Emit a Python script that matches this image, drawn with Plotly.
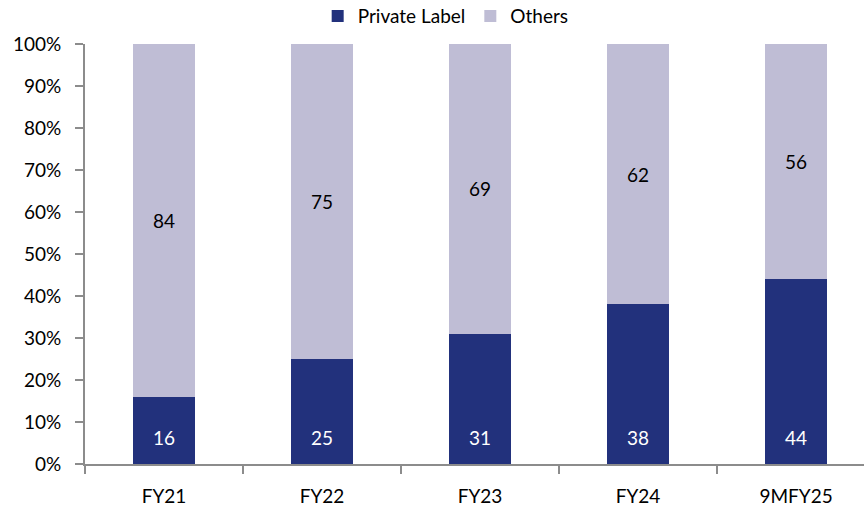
import plotly.graph_objects as go

# Share of sales (%) by fiscal period
categories = ["FY21", "FY22", "FY23", "FY24", "9MFY25"]
private_label = [16, 25, 31, 38, 44]
others = [84, 75, 69, 62, 56]
y_ticks = [0, 10, 20, 30, 40, 50, 60, 70, 80, 90, 100]
y_tick_labels = [f"{v}%" for v in y_ticks]

NAVY = "#22317c"
LAVENDER = "#bfbdd5"
FONT = "Lato, 'Open Sans', sans-serif"
SIZE = 19

fig = go.Figure()
fig.add_trace(go.Bar(
    x=categories, y=private_label, name="Private Label",
    marker=dict(color=NAVY, line=dict(width=0)), width=0.39,
))
fig.add_trace(go.Bar(
    x=categories, y=others, name="Others",
    marker=dict(color=LAVENDER, line=dict(width=0)), width=0.39,
    text=[str(v) for v in others], textposition="inside",
    insidetextanchor="middle", textangle=0,
    textfont=dict(color="#000000", size=SIZE, family=FONT),
))

# Private-label values sit near the base of each bar
for c, v in zip(categories, private_label):
    fig.add_annotation(x=c, y=0, text=str(v), showarrow=False,
                       yanchor="middle", yshift=27,
                       font=dict(color="#ffffff", size=SIZE, family=FONT))

fig.update_layout(
    barmode="stack",
    width=864, height=508,
    margin=dict(l=85, r=0, t=44, b=44, autoexpand=False),
    paper_bgcolor="white", plot_bgcolor="white",
    font=dict(family=FONT, size=SIZE, color="#000000"),
    showlegend=True,
    legend=dict(orientation="h", x=0.463, xanchor="center",
                y=1.021, yanchor="bottom",
                font=dict(size=SIZE, family=FONT), itemwidth=30,
                traceorder="normal", bgcolor="rgba(0,0,0,0)"),
    xaxis=dict(
        type="category", range=[-0.5, 4.43],
        showline=True, linecolor="#8c8c8c", linewidth=2,
        ticks="outside", tickson="boundaries", ticklen=8,
        tickcolor="#8c8c8c", tickwidth=2,
        showgrid=False, zeroline=False,
        tickfont=dict(size=SIZE, family=FONT), ticklabelstandoff=14,
    ),
    yaxis=dict(
        range=[0, 100], tickvals=y_ticks, ticktext=y_tick_labels,
        showline=True, linecolor="#8c8c8c", linewidth=2,
        ticks="outside", ticklen=8, tickcolor="#8c8c8c", tickwidth=2,
        showgrid=False, zeroline=False,
        tickfont=dict(size=SIZE, family=FONT), ticklabelstandoff=10,
    ),
)

fig.write_html("out.html")
